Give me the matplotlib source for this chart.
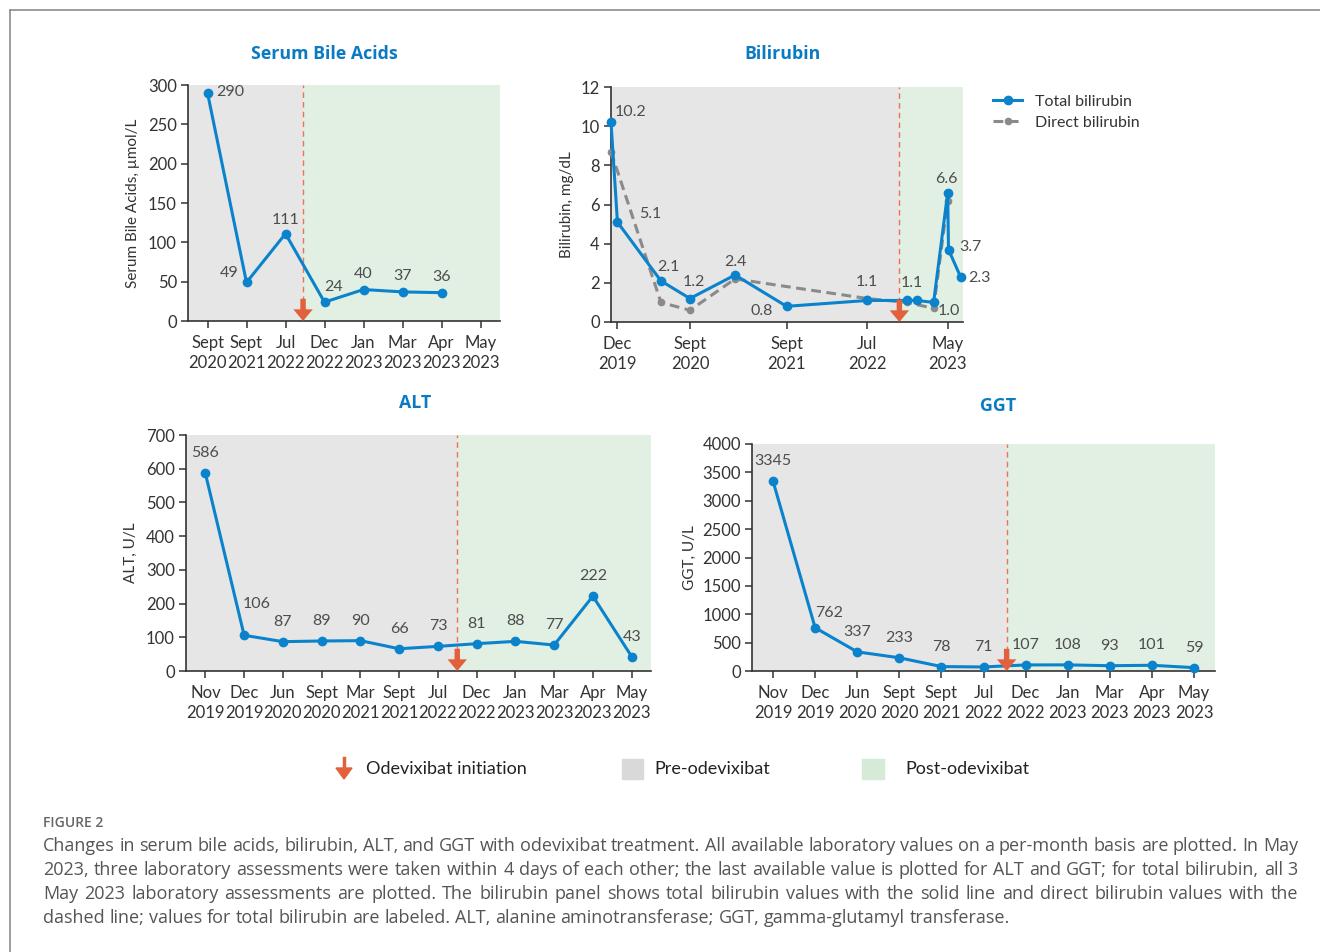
import numpy as np
import matplotlib
matplotlib.use('Agg')
import matplotlib.pyplot as plt
from matplotlib.lines import Line2D
from matplotlib.patches import Rectangle

W, H = 1320, 952

# data
bile_cats = ['Sept\n2020', 'Sept\n2021', 'Jul\n2022', 'Dec\n2022', 'Jan\n2023', 'Mar\n2023', 'Apr\n2023', 'May\n2023']
bile_vals = [290, 49, 111, 24, 40, 37, 36]

alt_cats = ['Nov\n2019', 'Dec\n2019', 'Jun\n2020', 'Sept\n2020', 'Mar\n2021', 'Sept\n2021', 'Jul\n2022',
            'Dec\n2022', 'Jan\n2023', 'Mar\n2023', 'Apr\n2023', 'May\n2023']
alt_vals = [586, 106, 87, 89, 90, 66, 73, 81, 88, 77, 222, 43]

ggt_cats = ['Nov\n2019', 'Dec\n2019', 'Jun\n2020', 'Sept\n2020', 'Sept\n2021', 'Jul\n2022',
            'Dec\n2022', 'Jan\n2023', 'Mar\n2023', 'Apr\n2023', 'May\n2023']
ggt_vals = [3345, 762, 337, 233, 78, 71, 107, 108, 93, 101, 59]

# bilirubin on a month axis (0 = Dec 2019)
bili_ticks = [0, 9, 21, 31, 41]
bili_ticklabels = ['Dec\n2019', 'Sept\n2020', 'Sept\n2021', 'Jul\n2022', 'May\n2023']
total_x = [-0.8, 0, 5.4, 9, 14.6, 21, 31, 35.9, 37.2, 39.25, 41, 41.1, 42.6]
total_y = [10.2, 5.1, 2.1, 1.2, 2.4, 0.8, 1.1, 1.1, 1.1, 1.0, 6.6, 3.7, 2.3]
direct_x = [-0.8, 5.4, 9, 14.6, 31, 35.9, 39.25, 41]
direct_y = [8.7, 1.0, 0.6, 2.2, 1.2, 1.0, 0.7, 6.2]

BLUE = '#0B83CC'
TITLE = '#0A7BC2'
GRAY_BG = '#E6E6E6'
GREEN_BG = '#E1F0E3'
ORANGE = '#E2613C'
TXT = '#333333'
LBL = '#4D4D4D'
FONT = 'Lato'

plt.rcParams['font.family'] = [FONT, 'DejaVu Sans']
plt.rcParams['font.size'] = 11

fig = plt.figure(figsize=(W / 100, H / 100), dpi=100)


def px_axes(l, r, t, b):
    return fig.add_axes([l / W, 1 - b / H, (r - l) / W, (b - t) / H])


def style(ax, yticks, ylabel, xlim, split, labelpad):
    ax.set_xlim(*xlim)
    ax.set_ylim(yticks[0], yticks[-1])
    ax.set_yticks(yticks)
    ax.axvspan(xlim[0], split, color=GRAY_BG, lw=0, zorder=0)
    ax.axvspan(split, xlim[1], color=GREEN_BG, lw=0, zorder=0)
    ax.axvline(split, color='#EB7457', lw=1, ls=(0, (4, 3)), zorder=1)
    ax.annotate('', xy=(split, 0), xycoords=('data', 'axes fraction'),
                xytext=(0, 16), textcoords='offset points',
                arrowprops=dict(arrowstyle='simple,head_width=1.0,head_length=0.6,tail_width=0.28',
                                lw=0, fc=ORANGE, ec='none', shrinkA=0, shrinkB=0,
                                mutation_scale=14),
                annotation_clip=False, zorder=6)
    for s in ['top', 'right']:
        ax.spines[s].set_visible(False)
    for s in ['left', 'bottom']:
        ax.spines[s].set_color(TXT)
        ax.spines[s].set_linewidth(1.2)
    ax.tick_params(direction='out', length=5, width=1.1, color=TXT, labelcolor=TXT,
                   labelsize=12, pad=3)
    ax.tick_params(axis='x', pad=5)
    ax.set_ylabel(ylabel, fontsize=11, color=TXT, labelpad=labelpad)
    for t in ax.get_xticklabels():
        t.set_linespacing(1.35)


def labels(ax, xs, ys, texts, offs):
    for x, y, s, o in zip(xs, ys, texts, offs):
        if o is None:
            continue
        ax.annotate(s, (x, y), xytext=(o[0] * 0.72, o[1] * 0.72), textcoords='offset points',
                    ha='center', va='center', fontsize=11.5, color=LBL, zorder=7)


# serum bile acids
ax1 = px_axes(188, 500, 85, 321)
x1 = np.arange(len(bile_vals))
ax1.plot(x1, bile_vals, color=BLUE, lw=2.2, marker='o', ms=6, zorder=5, clip_on=False)
ax1.set_xticks(np.arange(len(bile_cats)))
ax1.set_xticklabels(bile_cats)
style(ax1, np.arange(0, 301, 50), 'Serum Bile Acids, µmol/L', (-0.5, 7.5), 2.45, 6)
labels(ax1, x1, bile_vals, [str(v) for v in bile_vals],
       [(23, 1), (-17, 9), (0, 14), (9, 15), (0, 16), (0, 16), (0, 16)])

# bilirubin
ax2 = px_axes(611, 963, 87, 322)
ax2.plot(direct_x, direct_y, color='#8A8A8A', lw=2.2, ls=(0, (3.2, 1.8)), marker='o', ms=4.5,
         zorder=4, clip_on=False, label='Direct bilirubin')
ax2.plot(total_x, total_y, color=BLUE, lw=2.2, marker='o', ms=6, zorder=5, clip_on=False,
         label='Total bilirubin')
ax2.set_xticks(bili_ticks)
ax2.set_xticklabels(bili_ticklabels)
style(ax2, np.arange(0, 13, 2), 'Bilirubin, mg/dL', (-0.8, 42.9), 35.0, 5)
labels(ax2, total_x, total_y, ['%.1f' % v for v in total_y],
       [(20, 10), (33, 8), (7, 14), (4, 16), (0, 13), (-25, -5), (0, 18), (5, 17), None,
        (15, -9), (-1, 14), (22, 3), (19, -1)])
h, l = ax2.get_legend_handles_labels()
ax2.legend(h[::-1], l[::-1], loc='upper left', bbox_to_anchor=(979 / W, 1 - 80 / H),
           bbox_transform=fig.transFigure, frameon=False, fontsize=11.5, handlelength=1.8,
           handletextpad=0.8, labelspacing=0.45, labelcolor=TXT)

# ALT
ax3 = px_axes(186, 651, 435, 671)
x3 = np.arange(len(alt_vals))
ax3.plot(x3, alt_vals, color=BLUE, lw=2.2, marker='o', ms=6, zorder=5, clip_on=False)
ax3.set_xticks(x3)
ax3.set_xticklabels(alt_cats)
style(ax3, np.arange(0, 701, 100), 'ALT, U/L', (-0.5, 11.5), 6.5, 6)
labels(ax3, x3, alt_vals, [str(v) for v in alt_vals],
       [(0, 20), (13, 31)] + [(0, 20)] * 10)

# GGT
ax4 = px_axes(752, 1215, 444, 671)
x4 = np.arange(len(ggt_vals))
ax4.plot(x4, ggt_vals, color=BLUE, lw=2.2, marker='o', ms=6, zorder=5, clip_on=False)
ax4.set_xticks(x4)
ax4.set_xticklabels(ggt_cats)
style(ax4, np.arange(0, 4001, 500), 'GGT, U/L', (-0.5, 10.5), 5.55, 4)
labels(ax4, x4, ggt_vals, [str(v) for v in ggt_vals],
       [(0, 20), (14, 15)] + [(0, 20)] * 9)

# titles
for x, y, s in [(324, 54, 'Serum Bile Acids'), (782, 54, 'Bilirubin'),
                (415, 403, 'ALT'), (998, 406, 'GGT')]:
    fig.text(x / W, 1 - y / H, s, ha='center', va='center', fontsize=12.8,
             fontweight='bold', color=TITLE, family='Open Sans')

# bottom legend
fig.add_artist(Line2D([344 / W] * 2, [1 - 758 / H, 1 - 770 / H], color=ORANGE, lw=2.5))
fig.patches.append(plt.Polygon([[336 / W, 1 - 768 / H], [352 / W, 1 - 768 / H], [344 / W, 1 - 779 / H]],
                               closed=True, color=ORANGE, transform=fig.transFigure, figure=fig))
fig.text(366 / W, 1 - 769 / H, 'Odevixibat initiation', va='center', fontsize=13, color='#222222')
fig.patches.append(Rectangle((622 / W, 1 - 779 / H), 21 / W, 20 / H, color='#D9D9D9',
                             transform=fig.transFigure, figure=fig))
fig.text(654 / W, 1 - 769 / H, 'Pre-odevixibat', va='center', fontsize=13, color='#222222')
fig.patches.append(Rectangle((862 / W, 1 - 779 / H), 22 / W, 20 / H, color='#D5EBD7',
                             transform=fig.transFigure, figure=fig))
fig.text(905 / W, 1 - 769 / H, 'Post-odevixibat', va='center', fontsize=13, color='#222222')

# frame
fig.add_artist(Line2D([10 / W, 1], [1 - 10 / H] * 2, color='#8C8C8C', lw=1.2))
fig.add_artist(Line2D([10 / W] * 2, [1 - 10 / H, 0], color='#8C8C8C', lw=1.2))

# caption
fig.text(43 / W, 1 - 823 / H, 'FIGURE 2', va='center', fontsize=10, fontweight='semibold',
         color='#666666', family='Open Sans')
caption = [
    'Changes in serum bile acids, bilirubin, ALT, and GGT with odevixibat treatment. All available laboratory values on a per-month basis are plotted. In May',
    '2023, three laboratory assessments were taken within 4 days of each other; the last available value is plotted for ALT and GGT; for total bilirubin, all 3',
    'May 2023 laboratory assessments are plotted. The bilirubin panel shows total bilirubin values with the solid line and direct bilirubin values with the',
    'dashed line; values for total bilirubin are labeled. ALT, alanine aminotransferase; GGT, gamma-glutamyl transferase.',
]
renderer = fig.canvas.get_renderer()
x0, x1px = 43, 1298
for i, line in enumerate(caption):
    y = 1 - (846 + 24 * i) / H
    words = line.split()
    ts = [fig.text(0, y, w, va='center', fontsize=13, color='#555555', family='Open Sans')
          for w in words]
    widths = [t.get_window_extent(renderer).width for t in ts]
    if i < len(caption) - 1:
        gap = (x1px - x0 - sum(widths)) / (len(words) - 1)
    else:
        gap = 4.6
    x = x0
    for t, w in zip(ts, widths):
        t.set_x(x / W)
        x += w + gap

fig.savefig('out.png', dpi=100)
